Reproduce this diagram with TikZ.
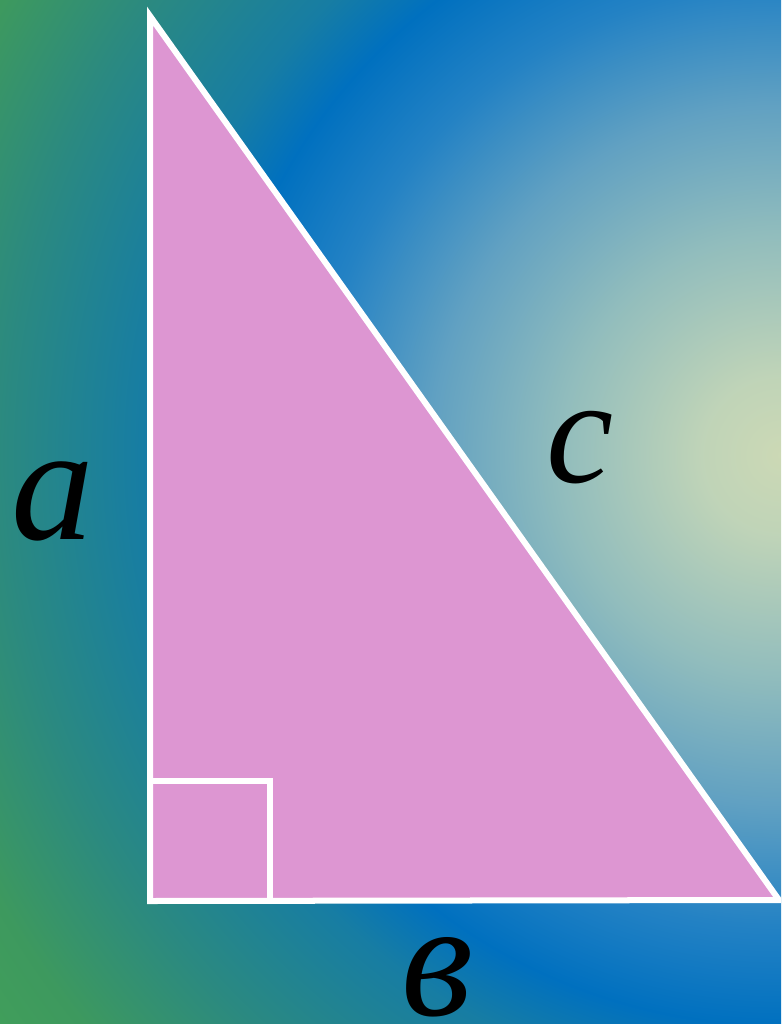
\documentclass[tikz,border=0pt]{standalone}
\usepackage{fontspec}
\setmainfont{Liberation Serif}
\usetikzlibrary{calc}
\definecolor{trifill}{RGB}{221,150,210}
% background glow, 1 px of the picture = 0.2835bp
\pgfdeclareradialshading{skyglow}{\pgfpoint{0bp}{0bp}}{%
  rgb(0bp)=(0.80,0.85,0.71);
  rgb(22.7bp)=(0.75,0.83,0.72);
  rgb(62.4bp)=(0.57,0.74,0.74);
  rgb(99.2bp)=(0.38,0.63,0.76);
  rgb(133.2bp)=(0.14,0.51,0.77);
  rgb(161.6bp)=(0,0.44,0.75);
  rgb(181.4bp)=(0.09,0.49,0.64);
  rgb(221.1bp)=(0.17,0.54,0.50);
  rgb(255.1bp)=(0.24,0.60,0.37);
  rgb(283.5bp)=(0.26,0.63,0.35);
  rgb(300bp)=(0.26,0.63,0.35)}

\begin{document}
\begin{tikzpicture}[x=0.01cm,y=-0.01cm,
  side/.style={draw=white, line width=0.06cm},
  letter/.style={inner sep=0pt, anchor=base,
    font=\fontsize{47}{47}\selectfont\itshape}]
  \useasboundingbox (0,0) rectangle (781,1024);
  \clip (0,0) rectangle (781,1024);
  \node[inner sep=0pt] (glow) at (781,455) {\pgfuseshading{skyglow}};
  % triangle corners
  \coordinate (top) at (150,16);
  \coordinate (rt) at (150,901);
  \coordinate (tip) at (779,900);
  \fill[trifill] (top) -- (rt) -- (tip) -- cycle;
  \draw[side] (top) -- (rt) -- (tip) -- cycle;
  \draw[side] ($(rt)+(0,-120)$) -- ($(rt)+(120,-120)$) -- ($(rt)+(120,0)$);
  \node[letter] (la) at (53,539) {a};
  \node[letter, font=\fontsize{43}{43}\selectfont\itshape] (lc) at (580,482) {c};
  \node[letter] (lb) at (437,1015) {в};
\end{tikzpicture}
\end{document}
